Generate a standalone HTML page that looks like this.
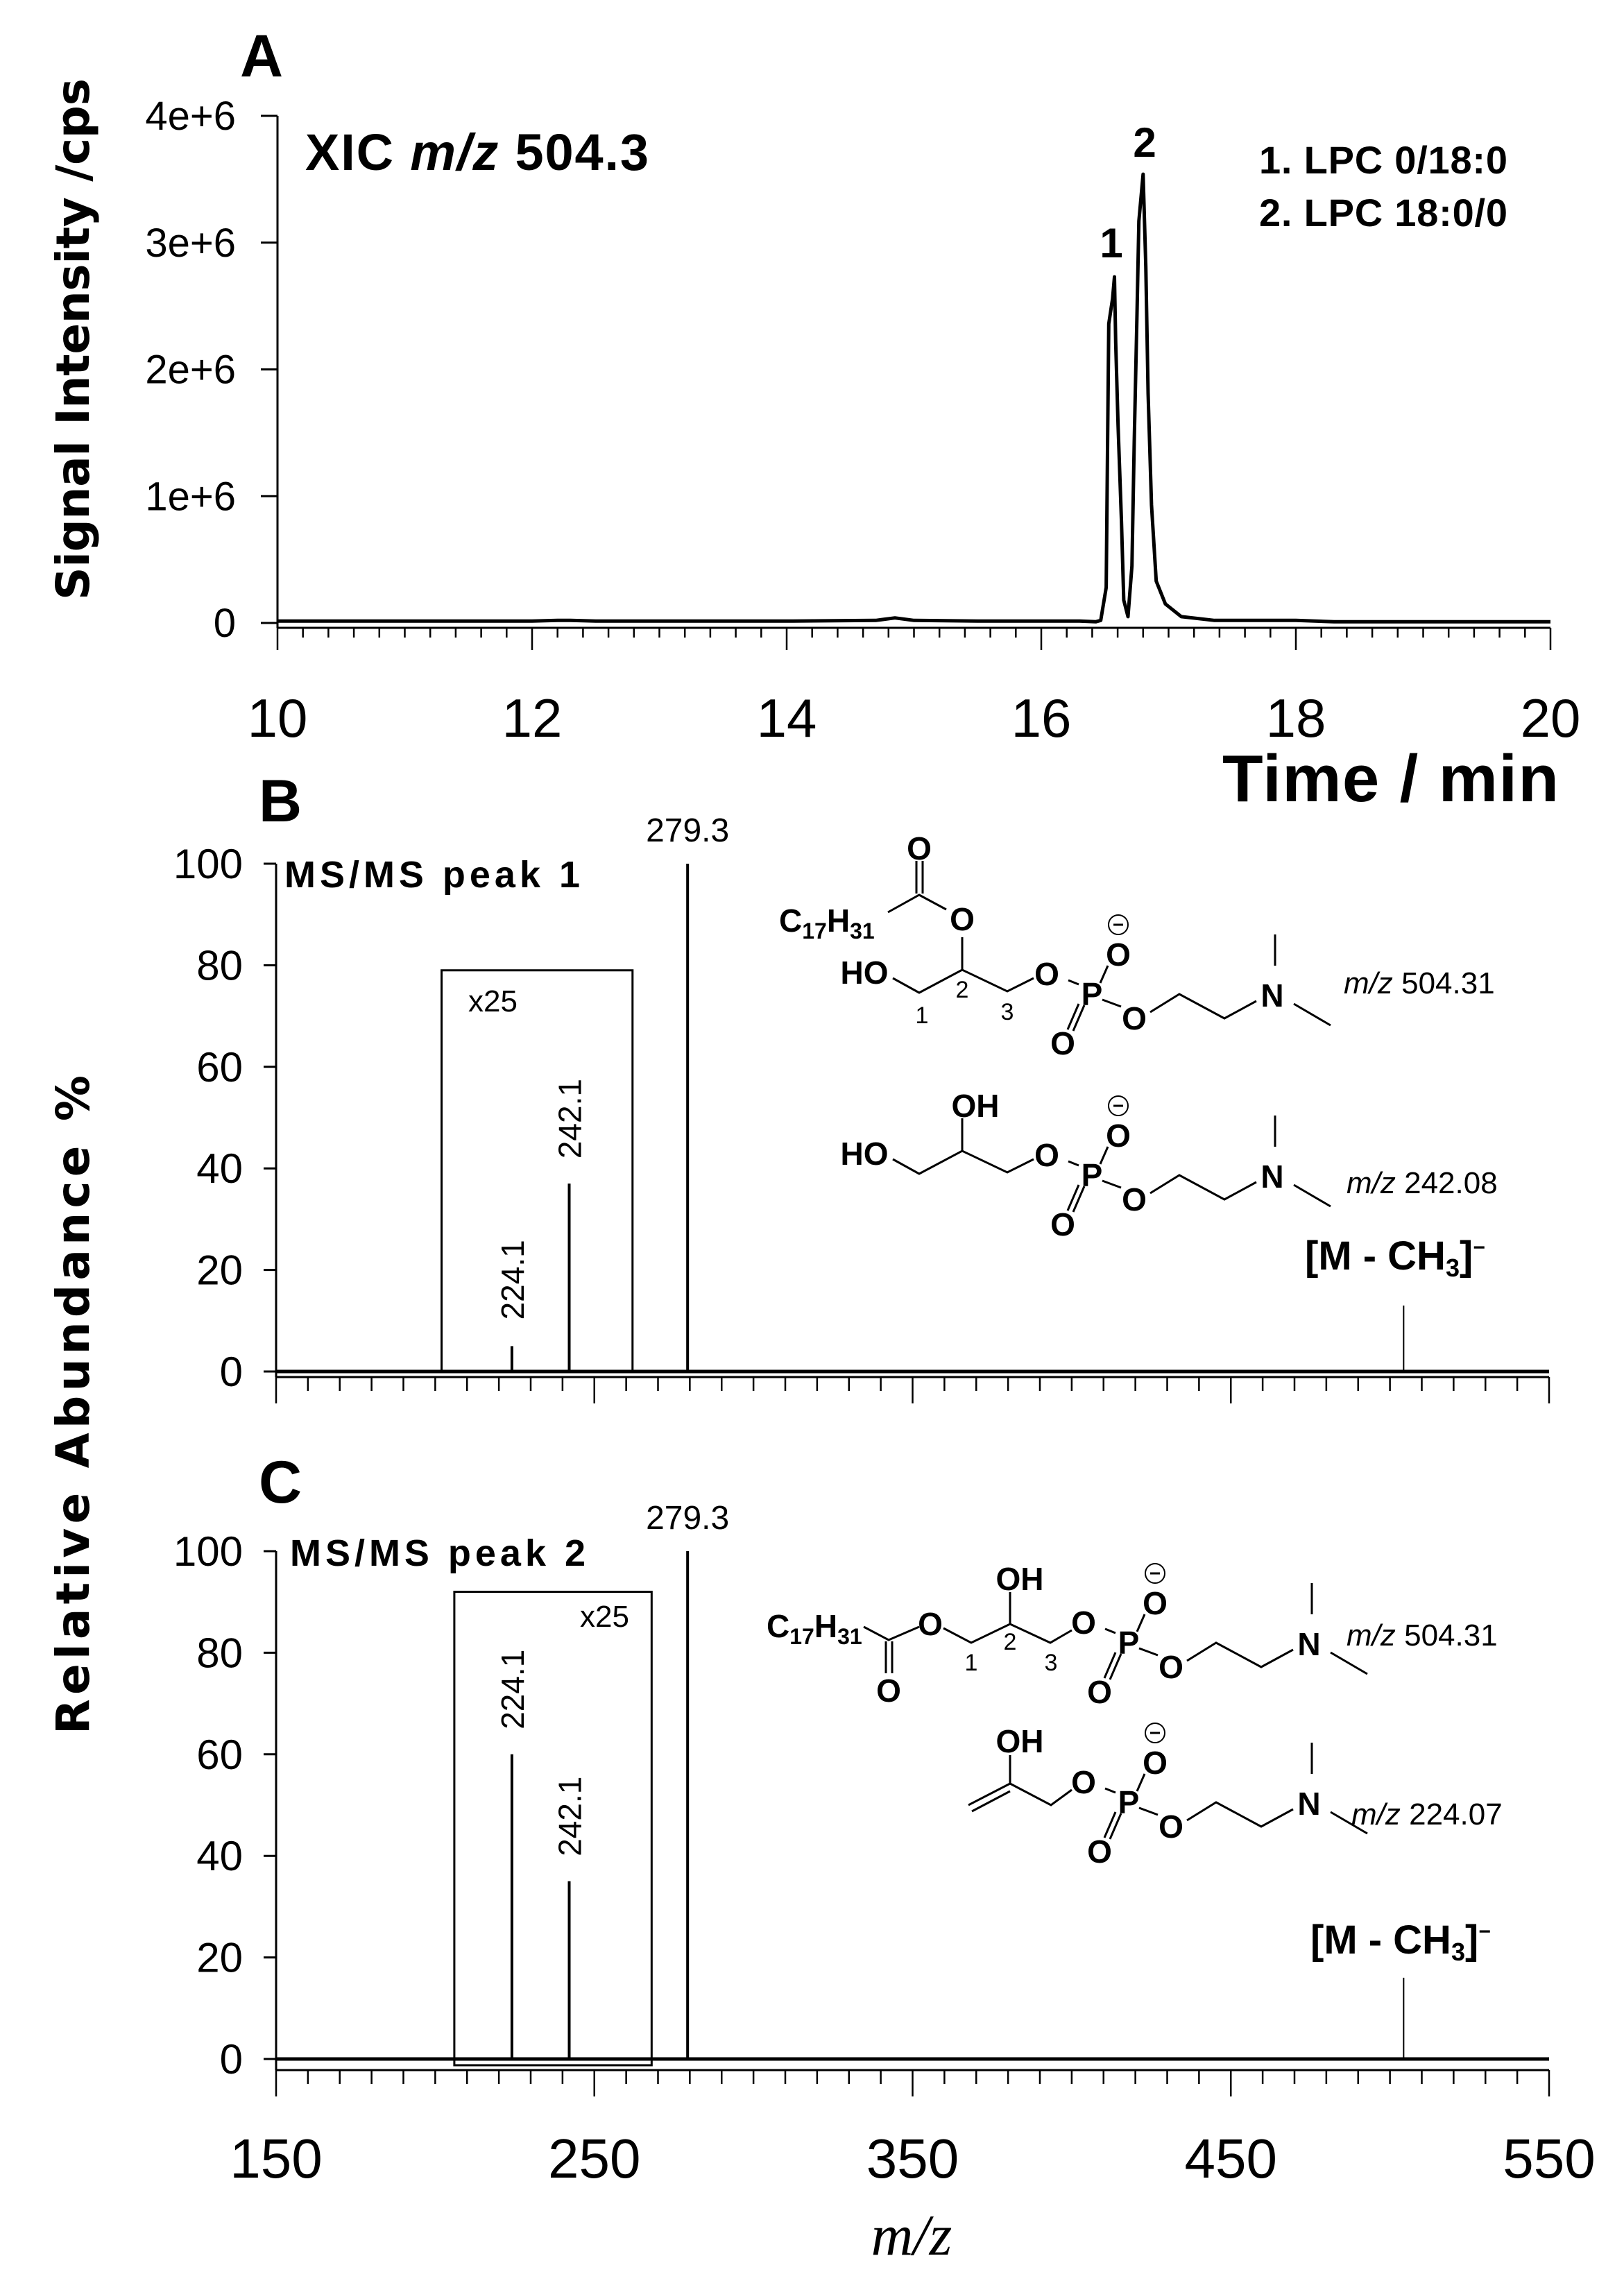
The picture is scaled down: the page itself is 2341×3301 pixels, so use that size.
<!DOCTYPE html>
<html><head><meta charset="utf-8"><style>
html,body{margin:0;padding:0;background:#fff;}
svg{display:block;}
text{font-family:"Liberation Sans",sans-serif;fill:#000;}
.b{font-weight:bold;}
</style></head><body>
<svg id="fig" xmlns="http://www.w3.org/2000/svg" width="2341" height="3301" viewBox="0 0 2341 3301">
<g id="gA"></g>
<g id="gB"></g>
<g id="gC"></g>
<g id="gS"></g>
</svg>
<script>
// ---- Panel A data (time in min, intensity in 1e6 cps)
const xicTime = [10,11,12,12.2,12.3,12.5,14,14.7,14.85,15,15.5,16.3,16.43,16.467,16.51,16.52,16.53,16.56,16.575,16.585,16.603,16.63,16.648,16.681,16.712,16.73,16.752,16.767,16.80,16.821,16.839,16.866,16.903,16.975,17.10,17.36,18,18.3,19,20];
const xicInt = [0.015,0.015,0.015,0.02,0.02,0.015,0.015,0.02,0.04,0.02,0.015,0.015,0.01,0.02,0.28,1.31,2.36,2.56,2.73,2.21,1.56,0.80,0.18,0.05,0.45,1.43,2.44,3.17,3.54,2.81,1.81,0.93,0.33,0.15,0.05,0.02,0.02,0.01,0.01,0.01];
const aYTicks = [0,1,2,3,4];
const aYLabels = ["0","1e+6","2e+6","3e+6","4e+6"];
const aXTicks = [10,12,14,16,18,20];
// ---- Panel B data
const bMz = [224.1,242.1,279.3,504.3];
const bAb = [5,37,100,13];
// ---- Panel C data
const cMz = [224.1,242.1,279.3,504.3];
const cAb = [60,35,100,16];
const msYTicks = [0,20,40,60,80,100];
const msXTicks = [150,250,350,450,550];

const NS="http://www.w3.org/2000/svg";
function mk(parent,tag,attrs,txt){const e=document.createElementNS(NS,tag);for(const k in attrs)e.setAttribute(k,attrs[k]);if(txt!==undefined)e.textContent=txt;parent.appendChild(e);return e;}

// ===== Panel A
const gA=document.getElementById('gA');
const axL=400, axR=2235;
const tx=t=>axL+(t-10)*(axR-axL)/10;
const iy=v=>898-v*(898-167)/4;
let l=mk(gA,'line',{x1:axL,y1:167,x2:axL,y2:905,stroke:'#000','stroke-width':3});


aYTicks.forEach((v,i)=>{
  let t=mk(gA,'line',{x1:376,y1:iy(v),x2:axL,y2:iy(v),stroke:'#000','stroke-width':3});
  
  
  let s=mk(gA,'text',{x:340,y:iy(v)+20,'text-anchor':'end','font-size':58},aYLabels[i]);
  
  
});
l=mk(gA,'line',{x1:axL,y1:905,x2:axR,y2:905,stroke:'#000','stroke-width':3});


for(let k=0;k<=50;k++){const t=10+k*0.2;const maj=k%10===0;
  let m=mk(gA,'line',{x1:tx(t),y1:905,x2:tx(t),y2:maj?937:919,stroke:'#000','stroke-width':2.5});
  
  }
aXTicks.forEach(v=>{let s=mk(gA,'text',{x:tx(v),y:1062,'text-anchor':'middle','font-size':78},String(v));
  
  });
let d=xicTime.map((t,i)=>(i?'L':'M')+tx(t).toFixed(1)+' '+iy(xicInt[i]).toFixed(1)).join(' ');
let p=mk(gA,'path',{d:d,fill:'none',stroke:'#000','stroke-width':5,'stroke-linejoin':'round'});



// ===== MS panels
function msPanel(g,pre,y0,y100,axisY,mz,ab,box,labels,showX){
  const xm=v=>398+(v-150)*(2233-398)/400;
  const ya=v=>y0-v*(y0-y100)/100;
  let a=mk(g,'line',{x1:398,y1:y100,x2:398,y2:axisY,stroke:'#000','stroke-width':3});
  
  
  msYTicks.forEach(v=>{
    let t=mk(g,'line',{x1:380,y1:ya(v),x2:398,y2:ya(v),stroke:'#000','stroke-width':3});
    
    
    let s=mk(g,'text',{x:350,y:ya(v)+21,'text-anchor':'end','font-size':60},String(v));
    
    
  });
  a=mk(g,'line',{x1:398,y1:axisY,x2:2233,y2:axisY,stroke:'#000','stroke-width':3});
  
  
  for(let v=150;v<=550;v+=10){const maj=(v-150)%100===0;
    let m=mk(g,'line',{x1:xm(v),y1:axisY,x2:xm(v),y2:axisY+(maj?38:20),stroke:'#000','stroke-width':2.5});
    
    }
  if(showX) msXTicks.forEach(v=>{let s=mk(g,'text',{x:xm(v),y:axisY+155,'text-anchor':'middle','font-size':80},String(v));
    
    });
  let base=mk(g,'line',{x1:398,y1:y0,x2:2233,y2:y0,stroke:'#000','stroke-width':5});
  
  
  let bx=mk(g,'rect',{x:xm(box[0]),y:ya(box[2]),width:xm(box[1])-xm(box[0]),height:y0-ya(box[2])+box[3],fill:'none',stroke:'#000','stroke-width':3});
  
  
  mz.forEach((m,i)=>{
    let s=mk(g,'line',{x1:xm(m),y1:y0,x2:xm(m),y2:ya(ab[i]),stroke:'#000','stroke-width':i===3?2:4});
    
    
  });
  let t=mk(g,'text',{x:xm(mz[2]),y:ya(100)-32,'text-anchor':'middle','font-size':48},'279.3');
  
  
  [0,1].forEach(i=>{
    const cx=xm(mz[i])+17, cy=ya(ab[i])-labels[i];
    let r=mk(g,'text',{x:cx,y:cy,'text-anchor':'start','font-size':46,transform:`rotate(-90 ${cx} ${cy})`},mz[i].toFixed(1));
    
    
  });
  return {xm,ya};
}
const gB=document.getElementById('gB');
const B=msPanel(gB,'b',1977,1245,1985,bMz,bAb,[202,262,79,0],[38,36],false);
const gC=document.getElementById('gC');
const C=msPanel(gC,'c',2968,2236,2984,cMz,cAb,[206,268,92,9],[36,36],true);

// ===== static text
const S=document.getElementById('gS');
function T(x,y,s,fs,cls,name,extra){const e=mk(S,'text',Object.assign({x:x,y:y,'font-size':fs},extra||{}));if(cls)e.setAttribute('class',cls);e.innerHTML=s;
  
  return e;}
T(346,110,'A',86,'b','panel-a-label');
T(373,1184,'B',86,'b','panel-b-label');
T(373,2166,'C',86,'b','panel-c-label');
T(440,245,'XIC <tspan font-style="italic">m/z</tspan> 504.3',74,'b','xic-title',{textLength:495});
T(1815,250,'1. LPC 0/18:0',56,'b','legend-peak-1',{textLength:358});
T(1815,326,'2. LPC 18:0/0',56,'b','legend-peak-2',{textLength:358});
T(1602,371,'1',60,'b','peak-1-label',{'text-anchor':'middle'});
T(1650,226,'2',60,'b','peak-2-label',{'text-anchor':'middle'});
T(2247,1155,'Time / min',96,'b','x-axis-title-time',{'text-anchor':'end',textLength:485});
T(0,0,'Signal Intensity /cps',66,'b','y-axis-title-signal',{'text-anchor':'middle',textLength:752,transform:'translate(128 489) rotate(-90)',style:'font-family:"DejaVu Sans",sans-serif'});
T(0,0,'Relative Abundance %',66,'b','y-axis-title-abundance',{'text-anchor':'middle',textLength:950,transform:'translate(128 2025) rotate(-90)',style:'font-family:"DejaVu Sans",sans-serif'});
T(1314,3250,'m/z',84,'','x-axis-title-mz',{'text-anchor':'middle','font-style':'italic',style:'font-family:"Liberation Serif",serif'});
T(410,1279,'MS/MS peak 1',54,'b','b-title',{textLength:426});
T(418,2257,'MS/MS peak 2',54,'b','c-title',{textLength:426});
T(675,1458,'x25',44,'','b-x25',{});
T(836,2345,'x25',44,'','c-x25',{});
function mch(x,y,name){
  T(x,y,'[M - CH<tspan font-size="36" dy="10">3</tspan><tspan dy="-10">]</tspan><tspan font-size="30" dy="-22">−</tspan>',58,'b',name,{});
}
mch(1881,1830,'b-m-ch3-label');
mch(1889,2816,'c-m-ch3-label');
T(1937,1432,'<tspan font-style="italic">m/z</tspan> 504.31',44,'','b-mz-504',{});
T(1941,1720,'<tspan font-style="italic">m/z</tspan> 242.08',44,'','b-mz-242',{});
T(1941,2372,'<tspan font-style="italic">m/z</tspan> 504.31',44,'','c-mz-504',{});
T(1948,2630,'<tspan font-style="italic">m/z</tspan> 224.07',44,'','c-mz-224',{});

// ===== structures
function L(pts,name){let e=mk(S,'polyline',{points:pts.map(p=>p.join(',')).join(' '),fill:'none',stroke:'#000','stroke-width':3});
  
  }
function A(x,y,s,name,fs){return T(x,y+16,s,fs||46,'b',name,{'text-anchor':'middle'});}
function pc(P,Q,pre){
  const o=(dx,dy)=>[P+dx,Q+dy];
  A(P,Q,'P',pre+'-p');
  A(P-65,Q-29,'O',pre+'-o-ester');
  L([o(-34,-20),o(-19,-14)],pre+'-bond');
  A(P+38,Q-57,'O',pre+'-o-minus');
  L([o(12,-16),o(23,-41)],pre+'-bond');
  let c=mk(S,'circle',{cx:P+38,cy:Q-100,r:14,fill:'none',stroke:'#000','stroke-width':2});
  
  
  L([o(31,-100),o(45,-100)],pre+'-minus');
  A(P-42,Q+71,'O',pre+'-o-double');
  L([o(-11,16),o(-27,53)],pre+'-bond');
  L([o(-19,14),o(-35,51)],pre+'-bond');
  A(P+61,Q+35,'O',pre+'-o-ether');
  L([o(15,8),o(42,18)],pre+'-bond');
  L([o(84,26),o(126,0),o(191,35),o(237,10)],pre+'-chain');
  A(P+260,Q+2,'N',pre+'-n');
  L([o(264,-41),o(264,-86)],pre+'-bond');
  L([o(291,14),o(344,45)],pre+'-bond');
}
// B1
pc(1574,1433,'b-s1');
A(1325,1223,'O','b-s1-o');
L([[1321,1241],[1321,1288]],'b-s1-bond');L([[1330,1241],[1330,1288]],'b-s1-bond');
T(1123,1343,'C<tspan font-size="32" dy="10">17</tspan><tspan dy="-10">H</tspan><tspan font-size="32" dy="10">31</tspan>',46,'b','b-s1-c17h31',{});
L([[1280,1315],[1325,1290],[1364,1311]],'b-s1-bond');
A(1387,1325,'O','b-s1-o2');
L([[1387,1351],[1387,1398]],'b-s1-bond');
A(1246,1402,'HO','b-s1-ho');
L([[1287,1410],[1325,1431],[1387,1398],[1452,1429],[1490,1410]],'b-s1-chain');
T(1329,1475,'1',34,'','b-s1-n1',{'text-anchor':'middle'});
T(1387,1438,'2',34,'','b-s1-n2',{'text-anchor':'middle'});
T(1452,1470,'3',34,'','b-s1-n3',{'text-anchor':'middle'});
// B2
pc(1574,1694,'b-s2');
A(1246,1663,'HO','b-s2-ho');
L([[1287,1671],[1325,1692],[1387,1659],[1452,1690],[1490,1671]],'b-s2-chain');
L([[1387,1659],[1387,1612]],'b-s2-bond');
A(1406,1594,'OH','b-s2-oh');
// C1
pc(1627,2368,'c-s1');
T(1105,2360,'C<tspan font-size="32" dy="10">17</tspan><tspan dy="-10">H</tspan><tspan font-size="32" dy="10">31</tspan>',46,'b','c-s1-c17h31',{});
L([[1245,2345],[1281,2364],[1325,2345]],'c-s1-bond');
L([[1277,2366],[1277,2412]],'c-s1-bond');L([[1286,2366],[1286,2412]],'c-s1-bond');
A(1281,2437,'O','c-s1-o');
A(1341,2341,'O','c-s1-o2');
L([[1360,2347],[1400,2368],[1456,2341],[1514,2368],[1545,2350]],'c-s1-chain');
L([[1456,2341],[1456,2295]],'c-s1-bond');
A(1470,2276,'OH','c-s1-oh');
T(1400,2408,'1',34,'','c-s1-n1',{'text-anchor':'middle'});
T(1456,2378,'2',34,'','c-s1-n2',{'text-anchor':'middle'});
T(1515,2408,'3',34,'','c-s1-n3',{'text-anchor':'middle'});
// C2
pc(1627,2598,'c-s2');
L([[1396,2602],[1456,2571],[1515,2602],[1545,2580]],'c-s2-chain');
L([[1401,2611],[1456,2582]],'c-s2-bond');
L([[1456,2571],[1456,2530]],'c-s2-bond');
A(1470,2510,'OH','c-s2-oh');
</script>
</body></html>
